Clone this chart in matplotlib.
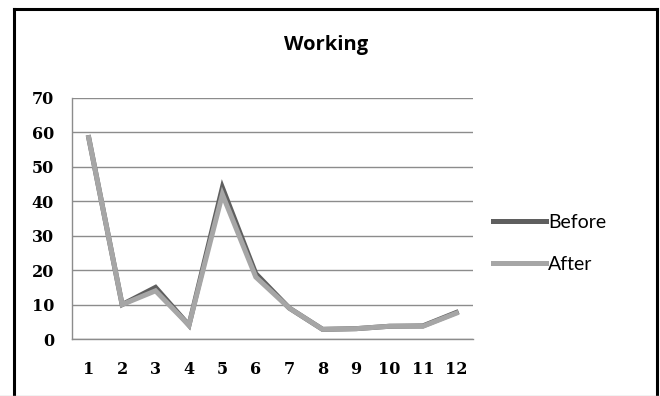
import matplotlib.pyplot as plt
from matplotlib.lines import Line2D

categories = ["1", "2", "3", "4", "5", "6", "7", "8", "9", "10", "11", "12"]
before = [58.5, 10, 15, 4, 44, 19, 9, 2.8, 3, 3.7, 3.8, 7.7]
after = [58.5, 10, 14, 4, 42, 18, 9, 2.8, 3, 3.7, 3.7, 7.5]

fig = plt.figure(figsize=(6.6, 3.96), dpi=100)
ax = fig.add_axes([72 / 660, 57 / 396, 401 / 660, 241 / 396])

x = list(range(len(categories)))
ax.plot(x, before, color="#5f5f5f", lw=3.6, solid_joinstyle="miter", label="Before")
ax.plot(x, after, color="#a6a6a6", lw=3.6, solid_joinstyle="miter", label="After")

ax.set_xlim(-0.5, len(categories) - 0.5)
ax.set_ylim(0, 70)
ax.set_yticks(range(0, 71, 10))
ax.set_xticks(x)
ax.set_xticklabels(categories)
ax.yaxis.grid(True, color="#8c8c8c", lw=1)
ax.set_axisbelow(True)
ax.tick_params(axis="x", length=0, labelsize=11.5, pad=16)
ax.tick_params(axis="y", length=0, labelsize=11.5, pad=13)
for lab in ax.get_xticklabels() + ax.get_yticklabels():
    lab.set_family("DejaVu Serif")
    lab.set_fontweight("bold")
for s in ["top", "right"]:
    ax.spines[s].set_visible(False)
for s in ["left", "bottom"]:
    ax.spines[s].set_color("#8c8c8c")
    ax.spines[s].set_linewidth(1)

fig.text(326 / 660, 1 - 45 / 396, "Working", ha="center", va="center",
         fontsize=14.5, fontweight="bold", family="Open Sans")

leg = fig.legend(loc="upper left", bbox_to_anchor=(475 / 660, 1 - 196 / 396),
                 frameon=False, handlelength=2.75, handletextpad=0.1,
                 labelspacing=1.3, prop={"family": "Lato", "size": 14})

# outer chart frame
frame = dict(color="black", lw=2.2, transform=fig.transFigure)
fig.add_artist(Line2D([14 / 660, 14 / 660], [0, 1 - 9 / 396], **frame))
fig.add_artist(Line2D([14 / 660, 657 / 660], [1 - 9 / 396, 1 - 9 / 396], **frame))
fig.add_artist(Line2D([657 / 660, 657 / 660], [0, 1 - 9 / 396], **frame))
fig.add_artist(Line2D([0, 1], [0.5 / 396, 0.5 / 396], color="#c0c0c0", lw=1,
                      transform=fig.transFigure))

fig.savefig("out.png", dpi=100)
